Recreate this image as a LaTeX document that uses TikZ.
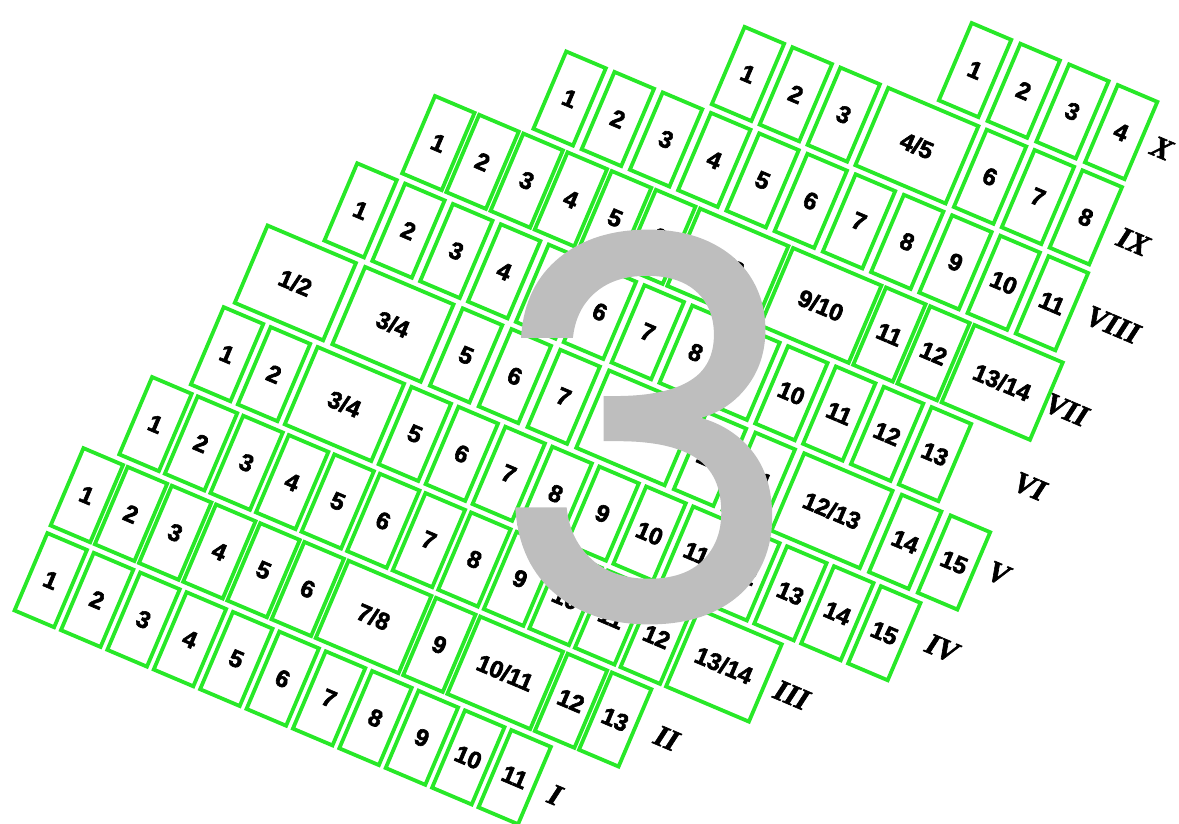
\documentclass[tikz,border=0pt]{standalone}
\usepackage{fontspec}
\setmainfont{Liberation Sans}
\newfontfamily\digfam{Liberation Sans Bold}[FakeBold=2.5]
\newfontfamily\romf{Liberation Serif Bold Italic}[FakeBold=2]
\newfontfamily\bigf{Poppins}[FakeBold=1.0]
\definecolor{pgreen}{RGB}{40,232,40}
\definecolor{biggray}{RGB}{190,190,190}
\newcommand\slh{/}
\newcommand\digf{\digfam\fontsize{24}{26}\selectfont}
% #1 row index, #2 first centre, #3 single pitch, #4 double width, #5 list label/double
\newcommand\plotrow[5]{%
  \xdef\curu{#2}\xdef\prevx{0}%
  \foreach \lab/\dbl [count=\k] in {#5}{%
    \pgfmathsetmacro\ww{\dbl==1 ? #4 : 43}%
    \pgfmathsetmacro\cc{\k==1 ? #2 : \curu + #3 + (\prevx)/2 + (\ww-43)/2}%
    \node[plotbox, minimum width=\ww pt] (r#1b\k) at (\cc, {92.3*#1}) {\lab};%
    \pgfmathsetmacro\tmp{\ww-43}%
    \xdef\curu{\cc}\xdef\prevx{\tmp}%
  }}
\begin{document}
\begin{tikzpicture}[x=1pt,y=1pt,
  plotbox/.style={draw=pgreen, line width=3.8pt, minimum height=84pt, inner sep=0pt,
    transform shape, font=\digf, text=black},
  romlab/.style={font=\romf\fontsize{30}{32}\selectfont, inner sep=0pt, transform shape}]
\useasboundingbox (0,0) rectangle (1179,-823);
\begin{scope}[shift={(48,-579)}, rotate=-23]
\plotrow{0}{3}{50.4}{90}{1/0,2/0,3/0,4/0,5/0,6/0,7/0,8/0,9/0,10/0,11/0}
\plotrow{1}{3}{48}{90}{1/0,2/0,3/0,4/0,5/0,6/0,7\slh8/1,9/0,10\slh11/1,12/0,13/0}
\plotrow{2}{38.4}{49.5}{90}{1/0,2/0,3/0,4/0,5/0,6/0,7/0,8/0,9/0,10/0,11/0,12/0,13\slh14/1}
\plotrow{3}{77}{51}{94}{1/0,2/0,3\slh4/1,5/0,6/0,7/0,8/0,9/0,10/0,11/0,12/0,13/0,14/0,15/0}
\plotrow{4}{112}{53}{96}{1\slh2/1,3\slh4/1,5/0,6/0,7/0,8\slh9/1,10/0,11/0,12\slh13/1,14/0,15/0}
\plotrow{5}{143.7}{52}{90}{1/0,2/0,3/0,4/0,5/0,6/0,7/0,8/0,9/0,10/0,11/0,12/0,13/0}
\plotrow{6}{189}{48}{96}{1/0,2/0,3/0,4/0,5/0,6/0,7\slh8/1,9\slh10/1,11/0,12/0,13\slh14/1}
\plotrow{7}{292.4}{52.4}{90}{1/0,2/0,3/0,4/0,5/0,6/0,7/0,8/0,9/0,10/0,11/0}
\plotrow{8}{447}{52}{98}{1/0,2/0,3/0,4\slh5/1,6/0,7/0,8/0}
\plotrow{9}{654.5}{52.9}{90}{1/0,2/0,3/0,4/0}
\node[romlab] (labI)    at (551.1,-0.7)  {I};
\node[romlab] (labII)   at (631.7,95.1)  {II};
\node[romlab] (labIII)  at (729.9,183.8) {III};
\node[romlab] (labIV)   at (849.8,285.4) {IV};
\node[romlab] (labV)    at (872.6,376.5) {V};
\node[romlab] (labVI)   at (867.8,468.7) {VI};
\node[romlab] (labVII)  at (871.7,553.6) {VII};
\node[romlab] (labVIII) at (881.1,649.9) {VIII};
\node[romlab] (labIX)   at (867.2,734.5) {IX};
\node[romlab] (labX)    at (856.9,831.6) {X};
\end{scope}
\node[inner sep=0pt, text=biggray, font=\bigf\fontsize{525}{525}\selectfont] (three) at (647,-427) {3};
\end{tikzpicture}
\end{document}
